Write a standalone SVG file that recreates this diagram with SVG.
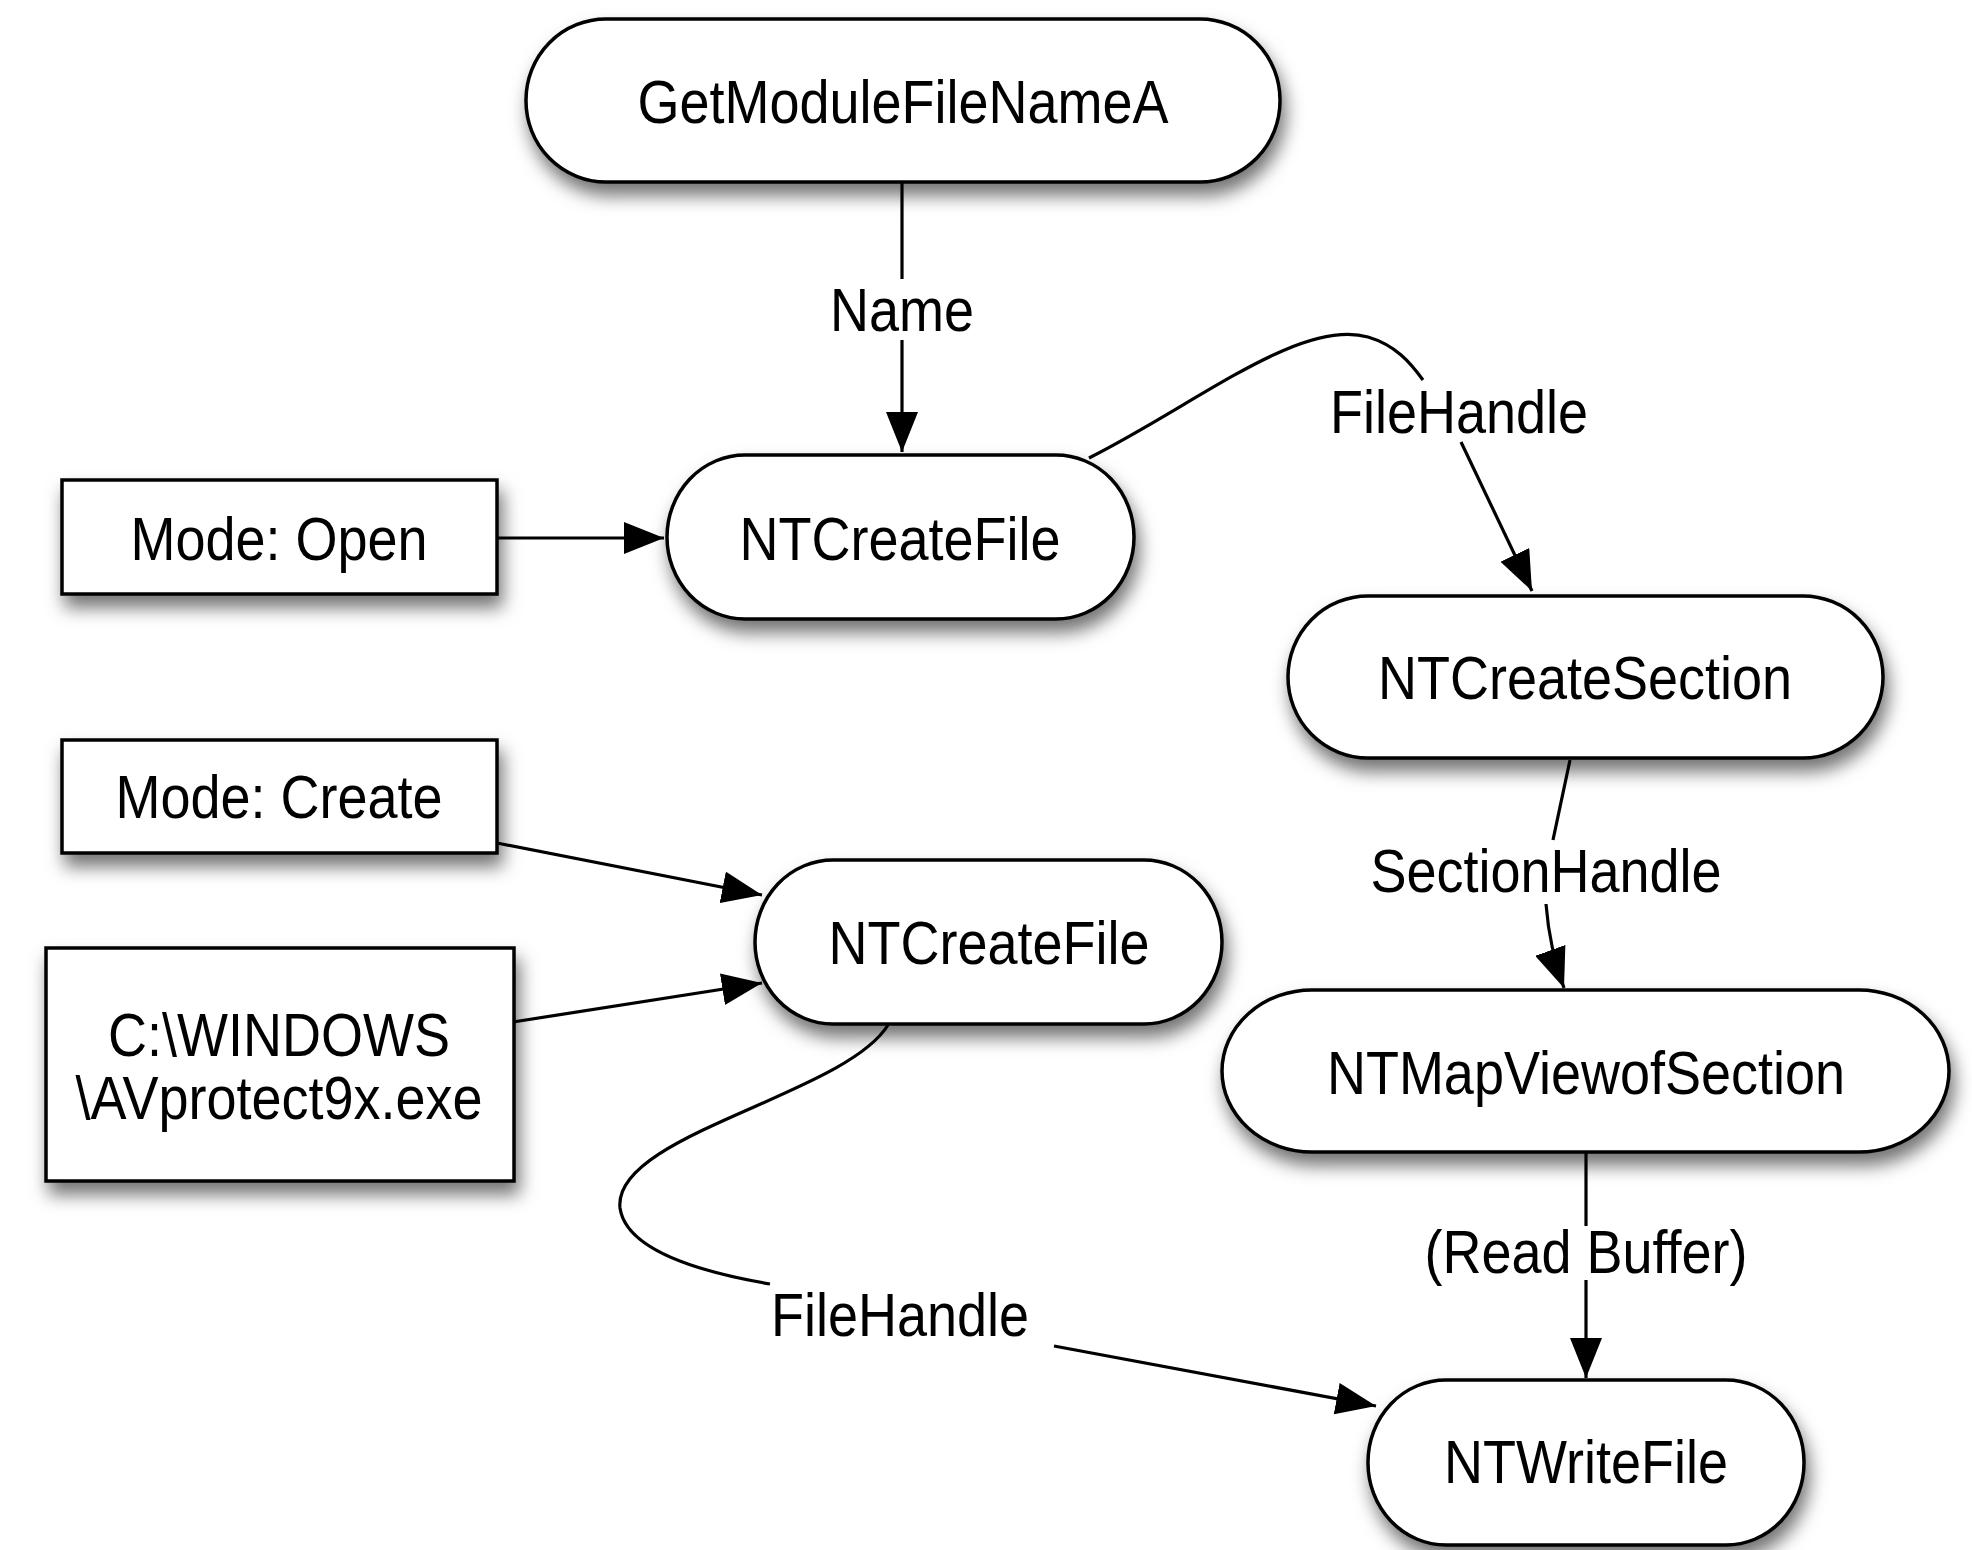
<svg xmlns="http://www.w3.org/2000/svg" width="1972" height="1550" viewBox="0 0 1972 1550">
<defs>
<filter id="sh" x="-20%" y="-30%" width="140%" height="170%">
<feDropShadow dx="4" dy="12" stdDeviation="9" flood-color="#000" flood-opacity="0.55"/>
</filter>
<marker id="ah" markerUnits="userSpaceOnUse" markerWidth="40" markerHeight="32" viewBox="0 0 40 32" refX="40" refY="16" orient="auto">
<path d="M0,0 L40,16 L0,32 z" fill="#000"/>
</marker>
</defs>
<style>
.n{fill:#fff;stroke:#000;stroke-width:3.5;filter:url(#sh)}
.t{font-family:"Liberation Sans",Arial,sans-serif;font-size:54px;fill:#000;text-anchor:middle}
.c{fill:none;stroke:#000;stroke-width:3.2}
.a{marker-end:url(#ah)}
</style>
<rect width="1972" height="1550" fill="#fff"/>
<g id="connectors">
<line class="c" x1="902" y1="182" x2="902" y2="279"/>
<line class="c a" x1="902" y1="340" x2="902" y2="452"/>
<line class="c a" x1="497" y1="538" x2="664" y2="538"/>
<path class="c" d="M1089,458 C1195,405 1300,318 1368,337 C1395,345 1410,362 1423,380"/>
<line class="c a" x1="1461" y1="442" x2="1532" y2="591"/>
<line class="c" x1="1570" y1="760" x2="1553" y2="840"/>
<path class="c a" d="M1546,904 C1548,930 1552,955 1564,988"/>
<line class="c" x1="1586" y1="1152" x2="1586" y2="1226"/>
<line class="c a" x1="1586" y1="1280" x2="1586" y2="1378"/>
<line class="c a" x1="497" y1="843" x2="762" y2="895"/>
<line class="c a" x1="513" y1="1022" x2="762" y2="983"/>
<path class="c" d="M888,1025 C845,1095 612,1135 620,1208 C626,1250 700,1272 770,1284"/>
<line class="c a" x1="1054" y1="1346" x2="1376" y2="1406"/>
</g>
<g id="n1"><rect class="n" x="526" y="19" width="754" height="163" rx="80" ry="81"/>
<text class="t" transform="translate(903,123) scale(1,1.13)">GetModuleFileNameA</text></g>
<g id="n2"><rect class="n" x="667" y="455" width="467" height="164" rx="78" ry="82"/>
<text class="t" transform="translate(900,560) scale(1,1.13)">NTCreateFile</text></g>
<g id="n3"><rect class="n" x="62" y="480" width="435" height="114"/>
<text class="t" transform="translate(279,560) scale(1,1.13)">Mode: Open</text></g>
<g id="n4"><rect class="n" x="1288" y="596" width="595" height="162" rx="80" ry="81"/>
<text class="t" transform="translate(1585,699) scale(1,1.13)">NTCreateSection</text></g>
<g id="n5"><rect class="n" x="62" y="740" width="435" height="113"/>
<text class="t" transform="translate(279,818) scale(1,1.13)">Mode: Create</text></g>
<g id="n6"><rect class="n" x="755" y="860" width="467" height="164" rx="78" ry="82"/>
<text class="t" transform="translate(989,964) scale(1,1.13)">NTCreateFile</text></g>
<g id="n7"><rect class="n" x="46" y="948" width="468" height="233"/>
<text class="t" transform="translate(279,1056) scale(1,1.13)">C:\WINDOWS</text>
<text class="t" transform="translate(279,1119) scale(1,1.13)">\AVprotect9x.exe</text></g>
<g id="n8"><rect class="n" x="1222" y="990" width="727" height="162" rx="90" ry="81"/>
<text class="t" transform="translate(1586,1094) scale(1,1.13)">NTMapViewofSection</text></g>
<g id="n9"><rect class="n" x="1368" y="1380" width="436" height="165" rx="78" ry="82"/>
<text class="t" transform="translate(1586,1483) scale(1,1.13)">NTWriteFile</text></g>
<g id="labels">
<text class="t" transform="translate(902,331) scale(1,1.13)">Name</text>
<text class="t" transform="translate(1459,433) scale(1,1.13)">FileHandle</text>
<text class="t" transform="translate(1546,892) scale(1,1.13)">SectionHandle</text>
<text class="t" transform="translate(1586,1273) scale(1,1.13)">(Read Buffer)</text>
<text class="t" transform="translate(900,1336) scale(1,1.13)">FileHandle</text>
</g>
</svg>
